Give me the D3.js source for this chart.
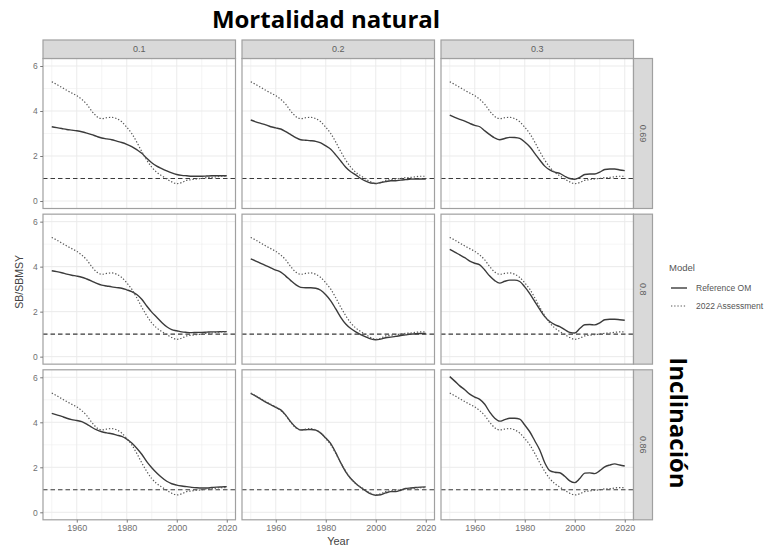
<!DOCTYPE html>
<html>
<head>
<meta charset="utf-8">
<script src="https://cdn.jsdelivr.net/npm/d3@7"></script>
<style>
  body { margin: 0; background: #fff; }
  text { font-family: "Liberation Sans", Arial, sans-serif; }
</style>
</head>
<body>
<svg id="chart" width="773" height="548"></svg>
<script>
// ---- data -------------------------------------------------------------
const years = [1950, 1952, 1954, 1956, 1958, 1960, 1962, 1964, 1966, 1968,
               1970, 1972, 1974, 1976, 1978, 1980, 1982, 1984, 1986, 1988,
               1990, 1992, 1994, 1996, 1998, 2000, 2002, 2004, 2006, 2008,
               2010, 2012, 2014, 2016, 2018, 2020];

const mortality = ["0.1", "0.2", "0.3"];      // column facets
const steepness = ["0.69", "0.8", "0.86"];    // row facets

// 2022 stock assessment (same in every panel)
const assessment2022 = [5.30, 5.18, 5.05, 4.92, 4.80, 4.68, 4.52, 4.30, 4.00, 3.76,
                        3.66, 3.70, 3.72, 3.66, 3.52, 3.28, 3.00, 2.62, 2.20, 1.82,
                        1.50, 1.28, 1.12, 0.98, 0.85, 0.77, 0.82, 0.92, 0.95, 0.98,
                        1.00, 1.04, 1.05, 1.08, 1.10, 1.10];

// Reference OM, steepness 0.69
const ref_h069_m01 = [3.30, 3.26, 3.22, 3.18, 3.15, 3.12, 3.08, 3.02, 2.95, 2.87,
                      2.80, 2.76, 2.72, 2.66, 2.60, 2.52, 2.42, 2.28, 2.12, 1.90,
                      1.70, 1.55, 1.44, 1.34, 1.25, 1.18, 1.14, 1.12, 1.10, 1.10,
                      1.10, 1.11, 1.12, 1.12, 1.12, 1.12];
const ref_h069_m02 = [3.60, 3.52, 3.45, 3.38, 3.30, 3.25, 3.20, 3.08, 2.95, 2.82,
                      2.72, 2.70, 2.68, 2.65, 2.58, 2.45, 2.30, 2.05, 1.78, 1.50,
                      1.30, 1.16, 1.00, 0.88, 0.80, 0.78, 0.82, 0.86, 0.90, 0.90,
                      0.93, 0.95, 0.97, 0.98, 0.98, 0.98];
const ref_h069_m03 = [3.82, 3.72, 3.63, 3.55, 3.45, 3.36, 3.30, 3.12, 2.95, 2.80,
                      2.72, 2.78, 2.83, 2.82, 2.78, 2.62, 2.41, 2.12, 1.82, 1.55,
                      1.38, 1.28, 1.23, 1.10, 1.00, 0.97, 1.05, 1.18, 1.20, 1.20,
                      1.28, 1.40, 1.42, 1.42, 1.38, 1.35];

// Reference OM, steepness 0.8
const ref_h080_m01 = [3.82, 3.78, 3.73, 3.67, 3.62, 3.58, 3.53, 3.45, 3.36, 3.26,
                      3.18, 3.14, 3.10, 3.07, 3.04, 2.97, 2.89, 2.76, 2.55, 2.25,
                      1.98, 1.75, 1.52, 1.33, 1.20, 1.15, 1.10, 1.08, 1.07, 1.08,
                      1.08, 1.09, 1.10, 1.10, 1.11, 1.11];
const ref_h080_m02 = [4.35, 4.25, 4.15, 4.05, 3.95, 3.85, 3.76, 3.58, 3.38, 3.20,
                      3.08, 3.06, 3.06, 3.04, 2.95, 2.75, 2.48, 2.12, 1.75, 1.45,
                      1.25, 1.10, 0.98, 0.88, 0.79, 0.75, 0.78, 0.84, 0.87, 0.90,
                      0.94, 0.97, 1.00, 1.02, 1.03, 1.03];
const ref_h080_m03 = [4.77, 4.65, 4.52, 4.40, 4.25, 4.15, 4.08, 3.85, 3.58, 3.38,
                      3.27, 3.35, 3.40, 3.40, 3.34, 3.10, 2.80, 2.45, 2.10, 1.78,
                      1.56, 1.42, 1.33, 1.20, 1.08, 1.05, 1.25, 1.42, 1.43, 1.41,
                      1.50, 1.64, 1.66, 1.66, 1.64, 1.62];

// Reference OM, steepness 0.86
const ref_h086_m01 = [4.40, 4.33, 4.26, 4.18, 4.12, 4.08, 4.03, 3.92, 3.78, 3.66,
                      3.58, 3.53, 3.49, 3.43, 3.37, 3.25, 3.08, 2.85, 2.58, 2.25,
                      1.98, 1.75, 1.55, 1.38, 1.27, 1.21, 1.17, 1.14, 1.11, 1.09,
                      1.08, 1.08, 1.10, 1.12, 1.13, 1.14];
const ref_h086_m02 = [5.29, 5.16, 5.03, 4.90, 4.78, 4.66, 4.55, 4.32, 4.02, 3.78,
                      3.66, 3.67, 3.68, 3.65, 3.52, 3.30, 3.05, 2.65, 2.20, 1.80,
                      1.50, 1.28, 1.10, 0.95, 0.82, 0.76, 0.78, 0.86, 0.92, 0.92,
                      0.98, 1.06, 1.08, 1.10, 1.12, 1.13];
const ref_h086_m03 = [6.03, 5.83, 5.62, 5.45, 5.25, 5.12, 5.02, 4.80, 4.45, 4.18,
                      4.05, 4.12, 4.18, 4.18, 4.14, 3.88, 3.58, 3.18, 2.77, 2.20,
                      1.85, 1.78, 1.76, 1.60, 1.40, 1.32, 1.50, 1.74, 1.75, 1.72,
                      1.85, 2.02, 2.10, 2.15, 2.10, 2.06];

const referenceRows = [
  [ref_h069_m01, ref_h069_m02, ref_h069_m03],
  [ref_h080_m01, ref_h080_m02, ref_h080_m03],
  [ref_h086_m01, ref_h086_m02, ref_h086_m03]
];

const xTicks = [1960, 1980, 2000, 2020];
const xMinor = [1950, 1970, 1990, 2010];
const yTicks = [0, 2, 4, 6];
const yMinor = [1, 3, 5];
const msyLevel = 1;

const seriesNames = ["Reference OM", "2022 Assessment"];

// ---- layout -----------------------------------------------------------
const svg = d3.select("#chart");
const panelW = 192.5, panelH = 150;
const colGap = 6.5, rowGap = 5.65;
const left0 = 43, top0 = 58.5;
const stripH = 18.5, stripW = 19;

const x = d3.scaleLinear().domain([1946.5, 2023.5]).range([0, panelW]);
const y = d3.scaleLinear().domain([-1 / 3, 6 + 1 / 3]).range([panelH, 0]);

const borderCol = "#a0a0a0";
const stripFill = "#d9d9d9";
const gridCol = "#ebebeb";
const lineCol = "#3b3b3b";
const dotCol = "#555555";
const tickTextCol = "#707070";

const line = d3.line()
  .x((d) => x(d[0]))
  .y((d) => y(d[1]))
  .curve(d3.curveMonotoneX);

// title
svg.append("text")
  .attr("x", 326).attr("y", 28)
  .attr("text-anchor", "middle")
  .style("font-family", "'Open Sans', sans-serif")
  .style("font-weight", "bold")
  .style("font-size", "24px")
  .attr("fill", "#000")
  .text("Mortalidad natural");

steepness.forEach((h, ri) => {
  mortality.forEach((m, ci) => {
    const px = left0 + ci * (panelW + colGap);
    const py = top0 + ri * (panelH + rowGap);
    const g = svg.append("g").attr("transform", `translate(${px},${py})`);

    // background + grid
    g.append("rect").attr("width", panelW).attr("height", panelH).attr("fill", "#fff");
    xMinor.forEach((t) => g.append("line")
      .attr("x1", x(t)).attr("x2", x(t)).attr("y1", 0).attr("y2", panelH)
      .attr("stroke", gridCol).attr("stroke-width", 0.5));
    yMinor.forEach((t) => g.append("line")
      .attr("y1", y(t)).attr("y2", y(t)).attr("x1", 0).attr("x2", panelW)
      .attr("stroke", gridCol).attr("stroke-width", 0.5));
    xTicks.forEach((t) => g.append("line")
      .attr("x1", x(t)).attr("x2", x(t)).attr("y1", 0).attr("y2", panelH)
      .attr("stroke", gridCol).attr("stroke-width", 1));
    yTicks.forEach((t) => g.append("line")
      .attr("y1", y(t)).attr("y2", y(t)).attr("x1", 0).attr("x2", panelW)
      .attr("stroke", gridCol).attr("stroke-width", 1));

    // reference line at SB/SBMSY = 1
    g.append("line")
      .attr("x1", 0).attr("x2", panelW)
      .attr("y1", y(msyLevel)).attr("y2", y(msyLevel))
      .attr("stroke", "#3a3a3a").attr("stroke-width", 1.1)
      .attr("stroke-dasharray", "4.5,3");

    // series
    const assess = years.map((yr, i) => [yr, assessment2022[i]]);
    const ref = years.map((yr, i) => [yr, referenceRows[ri][ci][i]]);
    g.append("path").datum(ref)
      .attr("d", line).attr("fill", "none")
      .attr("stroke", lineCol).attr("stroke-width", 1.4);
    g.append("path").datum(assess)
      .attr("d", line).attr("fill", "none")
      .attr("stroke", dotCol).attr("stroke-width", 1.2)
      .attr("stroke-dasharray", "1.3,1.9");

    // border
    g.append("rect").attr("width", panelW).attr("height", panelH)
      .attr("fill", "none").attr("stroke", borderCol).attr("stroke-width", 1.2);

    // top strip
    if (ri === 0) {
      const s = svg.append("g").attr("transform", `translate(${px},${top0 - stripH})`);
      s.append("rect").attr("width", panelW).attr("height", stripH)
        .attr("fill", stripFill).attr("stroke", borderCol).attr("stroke-width", 1.2);
      s.append("text").attr("x", panelW / 2).attr("y", stripH / 2 + 3.2)
        .attr("text-anchor", "middle").attr("font-size", 9)
        .attr("fill", "#606060").text(m);
    }
    // right strip
    if (ci === mortality.length - 1) {
      const s = svg.append("g").attr("transform", `translate(${px + panelW},${py})`);
      s.append("rect").attr("width", stripW).attr("height", panelH)
        .attr("fill", stripFill).attr("stroke", borderCol).attr("stroke-width", 1.2);
      s.append("text")
        .attr("transform", `translate(${stripW / 2 - 3.2},${panelH / 2}) rotate(90)`)
        .attr("text-anchor", "middle").attr("font-size", 9)
        .attr("fill", "#606060").text(h);
    }
    // y axis on the first column
    if (ci === 0) {
      const ax = svg.append("g").attr("transform", `translate(${px},${py})`)
        .call(d3.axisLeft(y).tickValues(yTicks).tickFormat(d3.format("d"))
          .tickSize(2.8).tickPadding(2.5));
      ax.select(".domain").remove();
      ax.selectAll(".tick line").attr("stroke", "#7a7a7a");
      ax.selectAll(".tick text").attr("fill", tickTextCol)
        .style("font-family", "'Liberation Sans', Arial, sans-serif").attr("font-size", 8.5);
    }
    // x axis on the bottom row
    if (ri === steepness.length - 1) {
      const ax = svg.append("g").attr("transform", `translate(${px},${py + panelH})`)
        .call(d3.axisBottom(x).tickValues(xTicks).tickFormat(d3.format("d"))
          .tickSize(2.8).tickPadding(2.5));
      ax.select(".domain").remove();
      ax.selectAll(".tick line").attr("stroke", "#7a7a7a");
      ax.selectAll(".tick text").attr("fill", tickTextCol)
        .style("font-family", "'Liberation Sans', Arial, sans-serif").attr("font-size", 9);
    }
  });
});

// axis titles
const gridW = 3 * panelW + 2 * colGap;
const gridH = 3 * panelH + 2 * rowGap;
svg.append("text")
  .attr("x", left0 + gridW / 2).attr("y", 545)
  .attr("text-anchor", "middle").attr("font-size", 11)
  .attr("fill", "#444").text("Year");
svg.append("text")
  .attr("transform", `translate(23,${top0 - stripH / 2 + gridH / 2 + 2}) rotate(-90)`)
  .attr("text-anchor", "middle").attr("font-size", 10.5)
  .attr("fill", "#444").text("SB/SBMSY");

// legend
const lg = svg.append("g").attr("transform", "translate(669,0)");
lg.append("text").attr("x", 0).attr("y", 271)
  .attr("font-size", 9.5).attr("fill", "#555").text("Model");
const keyY = [288, 306];
seriesNames.forEach((name, i) => {
  lg.append("line").attr("x1", 2).attr("x2", 18)
    .attr("y1", keyY[i]).attr("y2", keyY[i])
    .attr("stroke", i === 0 ? lineCol : dotCol)
    .attr("stroke-width", i === 0 ? 1.4 : 1.2)
    .attr("stroke-dasharray", i === 0 ? null : "1.3,1.9");
  lg.append("text").attr("x", 27).attr("y", keyY[i] + 3)
    .attr("font-size", 8.5).attr("fill", "#555").text(name);
});

// row-facet heading
svg.append("text")
  .attr("transform", "translate(670,423) rotate(90)")
  .attr("text-anchor", "middle")
  .style("font-family", "'Open Sans', sans-serif")
  .style("font-weight", "bold")
  .style("font-size", "24px")
  .attr("fill", "#000")
  .text("Inclinación");
</script>
</body>
</html>
